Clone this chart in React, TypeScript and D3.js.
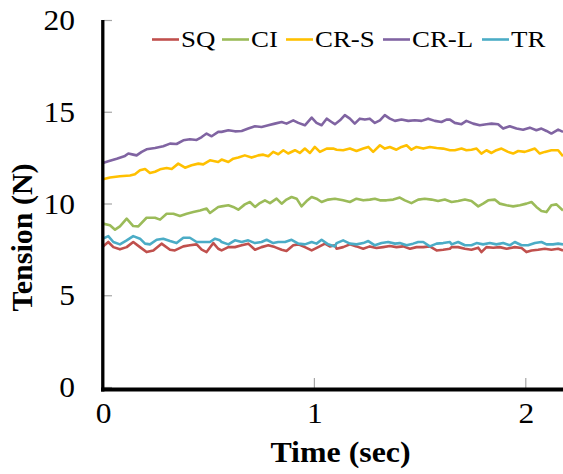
import React from "react";
import * as d3 from "d3";

// ---- data (time in sec, tension in N) ----
const seriesNames = ["SQ", "CI", "CR-S", "CR-L", "TR"];
const seriesColors = ["#C0504D", "#9BBB59", "#FFC000", "#8064A2", "#4BACC6"];
const yTicks = [0, 5, 10, 15, 20];
const xTicks = [0, 1, 2];

const sqData: [number, number][] = [
  [0, 7.69], [0.025, 7.93], [0.049, 7.65], [0.08, 7.53], [0.112, 7.65], [0.143, 7.93], [0.175, 7.65],
  [0.206, 7.38], [0.238, 7.47], [0.277, 7.84], [0.317, 7.51], [0.34, 7.47], [0.38, 7.69], [0.411, 7.75],
  [0.443, 7.8], [0.467, 7.51], [0.49, 7.38], [0.522, 7.87], [0.545, 7.56], [0.561, 7.47], [0.593, 7.65],
  [0.624, 7.65], [0.656, 7.75], [0.687, 7.84], [0.719, 7.51], [0.75, 7.65], [0.782, 7.75], [0.813, 7.65],
  [0.845, 7.51], [0.868, 7.44], [0.9, 7.75], [0.924, 7.8], [0.955, 7.65], [0.987, 7.47], [1.018, 7.65],
  [1.05, 7.84], [1.073, 7.69], [1.097, 7.75], [1.105, 7.56], [1.136, 7.65], [1.168, 7.8], [1.199, 7.69],
  [1.231, 7.56], [1.262, 7.69], [1.294, 7.6], [1.325, 7.65], [1.357, 7.71], [1.388, 7.65], [1.42, 7.69],
  [1.452, 7.56], [1.483, 7.65], [1.515, 7.65], [1.546, 7.69], [1.578, 7.47], [1.609, 7.51], [1.641, 7.56],
  [1.649, 7.65], [1.68, 7.65], [1.712, 7.56], [1.743, 7.51], [1.775, 7.62], [1.79, 7.38], [1.814, 7.65],
  [1.846, 7.62], [1.877, 7.65], [1.909, 7.56], [1.948, 7.65], [1.98, 7.6], [2.003, 7.38], [2.027, 7.47],
  [2.058, 7.51], [2.09, 7.56], [2.121, 7.51], [2.153, 7.56], [2.176, 7.47],
];

const ciData: [number, number][] = [
  [0, 8.93], [0.033, 8.84], [0.057, 8.6], [0.08, 8.78], [0.112, 9.2], [0.143, 8.8], [0.167, 8.78],
  [0.206, 9.25], [0.246, 9.25], [0.27, 9.15], [0.301, 9.47], [0.333, 9.47], [0.364, 9.35], [0.396, 9.47],
  [0.427, 9.56], [0.459, 9.65], [0.49, 9.75], [0.506, 9.51], [0.545, 9.84], [0.561, 9.87], [0.593, 9.93],
  [0.616, 9.84], [0.64, 9.69], [0.671, 9.98], [0.695, 10.11], [0.719, 9.84], [0.742, 10.05], [0.766, 10.2],
  [0.79, 10.05], [0.821, 10.29], [0.845, 10.02], [0.868, 10.24], [0.892, 10.38], [0.916, 10.29],
  [0.939, 9.87], [0.963, 10.16], [0.987, 10.38], [1.01, 10.29], [1.034, 10.11], [1.065, 10.24],
  [1.097, 10.29], [1.136, 10.2], [1.168, 10.11], [1.199, 10.29], [1.231, 10.2], [1.262, 10.24],
  [1.286, 10.29], [1.31, 10.2], [1.341, 10.2], [1.373, 10.24], [1.404, 10.35], [1.428, 10.2],
  [1.459, 10.05], [1.491, 10.24], [1.522, 10.29], [1.554, 10.24], [1.585, 10.16], [1.617, 10.24],
  [1.649, 10.11], [1.68, 10.16], [1.712, 10.24], [1.743, 10.16], [1.775, 9.87], [1.798, 10.02],
  [1.822, 10.2], [1.853, 10.24], [1.877, 10.02], [1.909, 9.93], [1.94, 9.87], [1.972, 9.93],
  [2.003, 10.02], [2.027, 10.11], [2.05, 9.84], [2.074, 9.62], [2.098, 9.56], [2.121, 9.93],
  [2.145, 9.98], [2.176, 9.65],
];

const crsData: [number, number][] = [
  [0, 11.35], [0.033, 11.44], [0.08, 11.51], [0.128, 11.55], [0.151, 11.62], [0.175, 11.84], [0.199, 11.91],
  [0.222, 11.69], [0.246, 11.76], [0.27, 11.89], [0.301, 11.96], [0.325, 11.91], [0.356, 12.2],
  [0.388, 11.98], [0.419, 12.11], [0.451, 12.2], [0.474, 12.16], [0.506, 12.38], [0.545, 12.29],
  [0.561, 12.42], [0.593, 12.29], [0.616, 12.47], [0.64, 12.53], [0.671, 12.65], [0.703, 12.53],
  [0.734, 12.65], [0.758, 12.69], [0.782, 12.6], [0.805, 12.84], [0.829, 12.71], [0.853, 12.93],
  [0.876, 12.75], [0.908, 12.93], [0.931, 12.78], [0.955, 13.02], [0.979, 12.78], [1.002, 13.11],
  [1.026, 12.84], [1.058, 13.02], [1.089, 13.02], [1.105, 12.96], [1.136, 12.93], [1.168, 13.02],
  [1.199, 12.89], [1.231, 13.02], [1.255, 13.11], [1.278, 12.84], [1.31, 13.2], [1.333, 13.02],
  [1.357, 13.11], [1.388, 12.96], [1.412, 13.11], [1.436, 13.2], [1.459, 12.96], [1.483, 13.11],
  [1.515, 13.02], [1.546, 13.11], [1.578, 13.05], [1.609, 13.02], [1.641, 12.93], [1.664, 12.93],
  [1.696, 13.02], [1.719, 12.93], [1.743, 12.96], [1.767, 13.02], [1.79, 12.75], [1.814, 12.93],
  [1.838, 12.78], [1.861, 12.93], [1.885, 13.02], [1.916, 12.84], [1.94, 12.75], [1.964, 12.89],
  [1.995, 12.84], [2.019, 12.93], [2.043, 13.02], [2.066, 12.75], [2.09, 12.84], [2.121, 12.93],
  [2.153, 12.93], [2.176, 12.6],
];

const crlData: [number, number][] = [
  [0, 12.24], [0.025, 12.33], [0.065, 12.47], [0.104, 12.62], [0.12, 12.75], [0.143, 12.69], [0.159, 12.65],
  [0.183, 12.84], [0.206, 12.98], [0.246, 13.05], [0.285, 13.15], [0.317, 13.29], [0.348, 13.27],
  [0.38, 13.47], [0.411, 13.53], [0.443, 13.49], [0.467, 13.65], [0.49, 13.84], [0.514, 13.69],
  [0.545, 13.93], [0.561, 13.93], [0.593, 14.02], [0.624, 13.96], [0.656, 13.98], [0.687, 14.11],
  [0.719, 14.24], [0.75, 14.2], [0.782, 14.29], [0.813, 14.38], [0.845, 14.47], [0.868, 14.38],
  [0.9, 14.56], [0.924, 14.42], [0.955, 14.29], [0.987, 14.71], [1.01, 14.42], [1.034, 14.29],
  [1.058, 14.65], [1.081, 14.47], [1.097, 14.35], [1.121, 14.56], [1.144, 14.84], [1.168, 14.65],
  [1.191, 14.38], [1.215, 14.65], [1.239, 14.6], [1.262, 14.65], [1.286, 14.42], [1.31, 14.56],
  [1.333, 14.84], [1.357, 14.65], [1.381, 14.53], [1.412, 14.6], [1.444, 14.53], [1.475, 14.56],
  [1.507, 14.53], [1.538, 14.65], [1.57, 14.53], [1.601, 14.47], [1.625, 14.6], [1.641, 14.6],
  [1.664, 14.42], [1.696, 14.35], [1.719, 14.53], [1.751, 14.38], [1.782, 14.29], [1.814, 14.35],
  [1.838, 14.38], [1.869, 14.35], [1.893, 14.11], [1.924, 14.24], [1.956, 14.11], [1.987, 14.05],
  [2.019, 14.16], [2.05, 14.02], [2.074, 14.11], [2.098, 13.98], [2.121, 13.84], [2.153, 14.05],
  [2.176, 13.93],
];

const trData: [number, number][] = [
  [0, 8.11], [0.025, 8.25], [0.049, 7.93], [0.08, 7.8], [0.112, 8.02], [0.143, 8.25], [0.175, 8.11],
  [0.199, 7.84], [0.222, 7.8], [0.254, 8.05], [0.285, 8.11], [0.317, 7.98], [0.348, 7.87], [0.38, 8.16],
  [0.411, 8.16], [0.443, 7.93], [0.474, 7.93], [0.506, 7.93], [0.53, 8.11], [0.553, 8.02], [0.561, 7.93],
  [0.593, 7.8], [0.624, 8.02], [0.656, 7.93], [0.687, 8.02], [0.719, 7.87], [0.75, 7.93], [0.774, 8.05],
  [0.805, 7.87], [0.829, 7.93], [0.861, 7.93], [0.892, 8.05], [0.924, 7.84], [0.955, 7.8], [0.987, 7.93],
  [1.01, 7.84], [1.034, 8.05], [1.065, 7.8], [1.097, 7.69], [1.105, 7.87], [1.136, 8.02], [1.168, 7.84],
  [1.199, 7.8], [1.231, 7.87], [1.255, 7.98], [1.286, 7.75], [1.318, 7.87], [1.349, 7.93], [1.381, 7.84],
  [1.404, 7.87], [1.436, 7.75], [1.467, 7.84], [1.491, 7.93], [1.515, 7.93], [1.546, 7.69], [1.578, 7.84],
  [1.609, 7.87], [1.641, 7.93], [1.649, 7.8], [1.68, 7.93], [1.712, 7.75], [1.743, 7.75], [1.767, 7.87],
  [1.798, 7.8], [1.83, 7.87], [1.861, 7.8], [1.893, 7.87], [1.924, 7.75], [1.948, 7.93], [1.98, 7.75],
  [2.011, 7.75], [2.043, 7.87], [2.074, 7.93], [2.098, 7.8], [2.129, 7.8], [2.153, 7.84], [2.176, 7.8],
];

const seriesData = [sqData, ciData, crsData, crlData, trData];

// ---- layout ----
const W = 563;
const H = 474;
const legendX = [152, 222, 286, 383, 482];

export default function App() {
  const x = d3.scaleLinear().domain([0, 2.176]).range([103, 563]);
  const y = d3.scaleLinear().domain([0, 20]).range([387.5, 20.5]);
  const line = d3
    .line<[number, number]>()
    .x((d) => x(d[0]))
    .y((d) => y(d[1]));

  const serif = "'Liberation Serif', 'Times New Roman', serif";

  return (
    <svg
      width={W}
      height={H}
      style={{ position: "absolute", left: 0, top: 0, background: "#fff" }}
      fontFamily={serif}
    >
      <rect x={0} y={0} width={W} height={H} fill="#fff" />

      {/* y ticks */}
      {yTicks.map((t) => (
        <g key={"y" + t}>
          <line x1={104} x2={112} y1={y(t)} y2={y(t)} stroke="#A6A6A6" strokeWidth={1.2} />
          <text
            transform={`translate(75,${y(t) + 9.5}) scale(1.05,1)`}
            textAnchor="end"
            fontSize={30}
            fill="#000"
          >
            {t}
          </text>
        </g>
      ))}

      {/* x ticks */}
      {xTicks.map((t) => (
        <g key={"x" + t}>
          <line x1={x(t)} x2={x(t)} y1={378} y2={388} stroke="#A6A6A6" strokeWidth={1.2} />
          <text
            transform={`translate(${x(t) + 0.5},423) scale(1.05,1)`}
            textAnchor="middle"
            fontSize={30}
            fill="#000"
          >
            {t}
          </text>
        </g>
      ))}

      {/* series */}
      {seriesData.map((d, i) => (
        <path
          key={seriesNames[i]}
          d={line(d) || ""}
          fill="none"
          stroke={seriesColors[i]}
          strokeWidth={2.6}
          strokeLinejoin="round"
        />
      ))}

      {/* axes */}
      <line x1={102.8} x2={102.8} y1={20} y2={391.5} stroke="#000" strokeWidth={3.3} />
      <line x1={101} x2={563} y1={389.6} y2={389.6} stroke="#000" strokeWidth={4} />

      {/* legend */}
      {seriesNames.map((n, i) => (
        <g key={"lg" + n}>
          <line
            x1={legendX[i]}
            x2={legendX[i] + 27}
            y1={39.5}
            y2={39.5}
            stroke={seriesColors[i]}
            strokeWidth={2.6}
          />
          <text
            transform={`translate(${legendX[i] + 29},46.7) scale(1.12,1)`}
            fontSize={24}
            fill="#000"
          >
            {n}
          </text>
        </g>
      ))}

      {/* axis titles */}
      <text
        transform="translate(340.5,462) scale(1.1,1)"
        textAnchor="middle"
        fontSize={29}
        fontWeight="bold"
        fill="#000"
      >
        Time (sec)
      </text>
      <text
        transform="translate(31.5,237.5) rotate(-90)"
        textAnchor="middle"
        fontSize={30}
        fontWeight="bold"
        fill="#000"
      >
        Tension (N)
      </text>
    </svg>
  );
}
